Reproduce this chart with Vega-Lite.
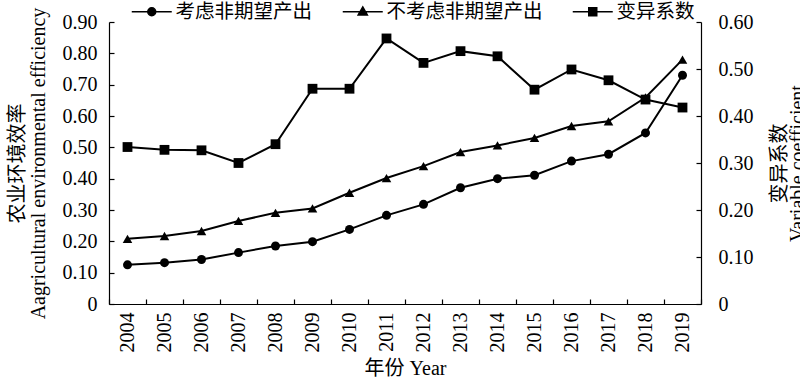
{
  "$schema": "https://vega.github.io/schema/vega-lite/v6.json",
  "width": 592,
  "height": 282,
  "autosize": {"type": "none"},
  "padding": {"left": 109, "top": 22, "right": 99, "bottom": 74},
  "background": "white",
  "config": {
    "view": {"stroke": null},
    "font": "Liberation Serif, Noto Sans CJK SC",
    "axis": {
      "domainColor": "black",
      "domainWidth": 1.2,
      "tickColor": "black",
      "tickWidth": 1.2,
      "labelColor": "black",
      "titleColor": "black",
      "labelFont": "Liberation Serif",
      "titleFont": "Liberation Serif, Noto Sans CJK SC",
      "titleFontWeight": "normal",
      "grid": false
    }
  },
  "data": {
    "values": [
      {"year": 2004, "series": "考虑非期望产出", "value": 0.125},
      {"year": 2005, "series": "考虑非期望产出", "value": 0.132},
      {"year": 2006, "series": "考虑非期望产出", "value": 0.142},
      {"year": 2007, "series": "考虑非期望产出", "value": 0.164},
      {"year": 2008, "series": "考虑非期望产出", "value": 0.185},
      {"year": 2009, "series": "考虑非期望产出", "value": 0.199},
      {"year": 2010, "series": "考虑非期望产出", "value": 0.238},
      {"year": 2011, "series": "考虑非期望产出", "value": 0.283},
      {"year": 2012, "series": "考虑非期望产出", "value": 0.318},
      {"year": 2013, "series": "考虑非期望产出", "value": 0.371},
      {"year": 2014, "series": "考虑非期望产出", "value": 0.400},
      {"year": 2015, "series": "考虑非期望产出", "value": 0.411},
      {"year": 2016, "series": "考虑非期望产出", "value": 0.456},
      {"year": 2017, "series": "考虑非期望产出", "value": 0.478},
      {"year": 2018, "series": "考虑非期望产出", "value": 0.546},
      {"year": 2019, "series": "考虑非期望产出", "value": 0.730},
      {"year": 2004, "series": "不考虑非期望产出", "value": 0.208},
      {"year": 2005, "series": "不考虑非期望产出", "value": 0.217},
      {"year": 2006, "series": "不考虑非期望产出", "value": 0.233},
      {"year": 2007, "series": "不考虑非期望产出", "value": 0.265},
      {"year": 2008, "series": "不考虑非期望产出", "value": 0.291},
      {"year": 2009, "series": "不考虑非期望产出", "value": 0.305},
      {"year": 2010, "series": "不考虑非期望产出", "value": 0.355},
      {"year": 2011, "series": "不考虑非期望产出", "value": 0.402},
      {"year": 2012, "series": "不考虑非期望产出", "value": 0.440},
      {"year": 2013, "series": "不考虑非期望产出", "value": 0.485},
      {"year": 2014, "series": "不考虑非期望产出", "value": 0.506},
      {"year": 2015, "series": "不考虑非期望产出", "value": 0.530},
      {"year": 2016, "series": "不考虑非期望产出", "value": 0.568},
      {"year": 2017, "series": "不考虑非期望产出", "value": 0.583},
      {"year": 2018, "series": "不考虑非期望产出", "value": 0.659},
      {"year": 2019, "series": "不考虑非期望产出", "value": 0.780},
      {"year": 2004, "series": "变异系数", "value": 0.334},
      {"year": 2005, "series": "变异系数", "value": 0.328},
      {"year": 2006, "series": "变异系数", "value": 0.327},
      {"year": 2007, "series": "变异系数", "value": 0.300},
      {"year": 2008, "series": "变异系数", "value": 0.340},
      {"year": 2009, "series": "变异系数", "value": 0.458},
      {"year": 2010, "series": "变异系数", "value": 0.458},
      {"year": 2011, "series": "变异系数", "value": 0.565},
      {"year": 2012, "series": "变异系数", "value": 0.513},
      {"year": 2013, "series": "变异系数", "value": 0.538},
      {"year": 2014, "series": "变异系数", "value": 0.527},
      {"year": 2015, "series": "变异系数", "value": 0.456},
      {"year": 2016, "series": "变异系数", "value": 0.499},
      {"year": 2017, "series": "变异系数", "value": 0.476},
      {"year": 2018, "series": "变异系数", "value": 0.435},
      {"year": 2019, "series": "变异系数", "value": 0.418}
    ]
  },
  "encoding": {
    "x": {
      "field": "year",
      "type": "ordinal",
      "scale": {"type": "band", "paddingInner": 0, "paddingOuter": 0},
      "axis": {
        "title": "年份 Year",
        "titleFontSize": 20,
        "titlePadding": 6,
        "labelAngle": -90,
        "labelAlign": "right",
        "labelBaseline": "middle",
        "labelFontSize": 20,
        "labelPadding": 13,
        "tickBand": "extent",
        "tickSize": -5
      }
    }
  },
  "layer": [
    {
      "transform": [{"filter": "datum.series !== '变异系数'"}],
      "encoding": {
        "y": {
          "field": "value",
          "type": "quantitative",
          "scale": {"domain": [0, 0.9], "nice": false, "zero": true},
          "axis": {
            "orient": "left",
            "values": [0, 0.1, 0.2, 0.3, 0.4, 0.5, 0.6, 0.7, 0.8, 0.9],
            "labelExpr": "datum.value === 0 ? '0' : format(datum.value, '.2f')",
            "labelFontSize": 20,
            "labelPadding": 17,
            "tickSize": -5,
            "title": ["农业环境效率", "Aagricultural environmental efficiency"],
            "titleFontSize": 20,
            "titleLineHeight": 21,
            "titlePadding": 14
          }
        }
      },
      "layer": [
        {
          "mark": {"type": "line", "color": "black", "strokeWidth": 2},
          "encoding": {"detail": {"field": "series"}}
        },
        {
          "transform": [{"filter": "datum.series === '考虑非期望产出'"}],
          "mark": {"type": "point", "shape": "circle", "filled": true, "color": "black", "opacity": 1, "size": 81},
          "encoding": {}
        },
        {
          "transform": [{"filter": "datum.series === '不考虑非期望产出'"}],
          "mark": {"type": "point", "shape": "triangle-up", "filled": true, "color": "black", "opacity": 1, "size": 92},
          "encoding": {}
        },
        {
          "mark": {"type": "point", "filled": true, "fill": "black", "stroke": "black", "strokeWidth": 1.5, "opacity": 0, "size": 64},
          "encoding": {
            "shape": {
              "field": "series",
              "type": "nominal",
              "scale": {
                "domain": ["考虑非期望产出", "不考虑非期望产出", "变异系数"],
                "range": [
                  "M-5,0H5M-1,0A1,1,0,1,1,1,0A1,1,0,1,1,-1,0Z",
                  "M-5,0H5M0,-1.2L1.15,0.8L-1.15,0.8Z",
                  "M-5,0H5M-1,-1H1V1H-1Z"
                ]
              },
              "legend": {
                "title": null,
                "orient": "none",
                "direction": "horizontal",
                "gridAlign": "none",
                "legendX": 33,
                "legendY": -20,
                "labelFont": "Noto Sans CJK SC",
                "labelFontSize": 19.5,
                "labelColor": "black",
                "labelOffset": 14,
                "columnPadding": 26,
                "symbolSize": 64,
                "symbolOpacity": 1,
                "symbolStrokeWidth": 1.5
              }
            }
          }
        }
      ]
    },
    {
      "transform": [{"filter": "datum.series === '变异系数'"}],
      "encoding": {
        "y": {
          "field": "value",
          "type": "quantitative",
          "scale": {"domain": [0, 0.6], "nice": false, "zero": true},
          "axis": {
            "orient": "right",
            "values": [0, 0.1, 0.2, 0.3, 0.4, 0.5, 0.6],
            "labelExpr": "datum.value === 0 ? '0' : format(datum.value, '.2f')",
            "labelFontSize": 20,
            "labelPadding": 22,
            "tickSize": -5,
            "title": ["变异系数", "Variable coefficient"],
            "titleFontSize": 20,
            "titleLineHeight": 18,
            "titleAngle": -90,
            "titleBaseline": "top",
            "titleAlign": "center",
            "titleX": 68,
            "titleY": 141
          }
        }
      },
      "layer": [
        {
          "mark": {"type": "line", "color": "black", "strokeWidth": 2},
          "encoding": {}
        },
        {
          "mark": {"type": "point", "shape": "square", "filled": true, "color": "black", "opacity": 1, "size": 96},
          "encoding": {}
        }
      ]
    }
  ],
  "resolve": {"scale": {"y": "independent"}}
}
